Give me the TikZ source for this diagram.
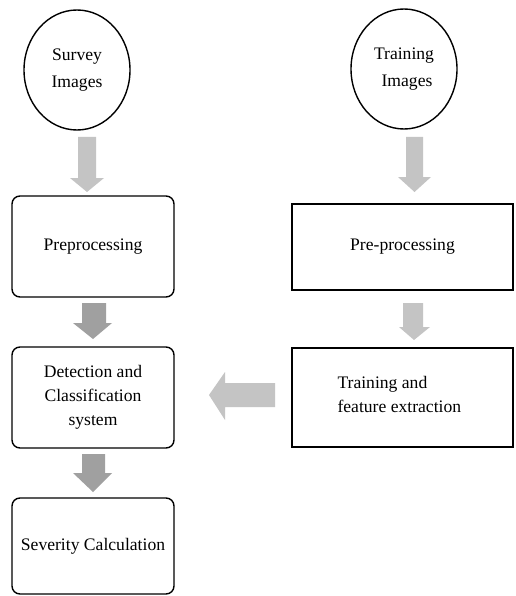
\documentclass[tikz,border=0pt]{standalone}
\usepackage{fontspec}
\setmainfont{Liberation Serif}
\usetikzlibrary{shapes.geometric}
\definecolor{lightarr}{HTML}{C4C4C4}
\definecolor{darkarr}{HTML}{A0A0A0}
\begin{document}
\begin{tikzpicture}[x=1pt,y=-1pt,
  txt/.style={font=\fontsize{17.6}{24}\selectfont, align=center},
  oval/.style={ellipse, draw, line width=1.4pt, minimum width=106pt, minimum height=120pt, inner sep=0pt, font=\fontsize{17.6}{27}\selectfont, align=center},
  rbox/.style={draw, line width=1.4pt, rounded corners=8pt, minimum width=162pt, inner sep=0pt, txt},
  sbox/.style={draw, line width=1.4pt, minimum width=221pt, inner sep=0pt, txt},
  larrow/.style={fill=lightarr, draw=none},
  darrow/.style={fill=darkarr, draw=none}]
\useasboundingbox (0,0) rectangle (515,596);
\fill[white] (0,0) rectangle (515,596);
% nodes
\node[oval] (survey) at (77,70) {Survey\\Images};
\node[oval] (training) at (404,69) {Training\\\hspace*{6pt}Images};
\node[rbox, minimum height=101pt] (prep) at (93,246.5) {Preprocessing};
\node[rbox, minimum height=101pt] (detect) at (93,397.5) {Detection and\\Classification\\system};
\node[rbox, minimum height=96pt] (sev) at (93,546) {Severity Calculation};
\node[sbox, minimum height=86pt] (prep2) at (402.5,247) {Pre-processing};
\node[sbox, minimum height=99pt] (train) at (402.5,397.5) {};
\node[txt, align=left, anchor=west] (traintxt) at (334,394) {Training and\\feature extraction};
% block arrows
\fill[larrow] (78,137) -- (96,137) -- (96,178) -- (104,178) -- (87,192) -- (70,178) -- (78,178) -- cycle;
\fill[larrow] (406,137) -- (423,137) -- (423,177) -- (431,177) -- (414.5,192) -- (398,177) -- (406,177) -- cycle;
\fill[darrow] (82,303) -- (106,303) -- (106,323) -- (112,323) -- (93,339) -- (73,323) -- (82,323) -- cycle;
\fill[darrow] (82,454) -- (105,454) -- (105,473) -- (112,473) -- (93,492) -- (73,473) -- (82,473) -- cycle;
\fill[larrow] (403,303) -- (423,303) -- (423,327) -- (430,327) -- (414,340) -- (399,327) -- (403,327) -- cycle;
\fill[larrow] (275,383) -- (275,407) -- (225,407) -- (225,420) -- (209,395) -- (225,372) -- (225,383) -- cycle;
\end{tikzpicture}
\end{document}
